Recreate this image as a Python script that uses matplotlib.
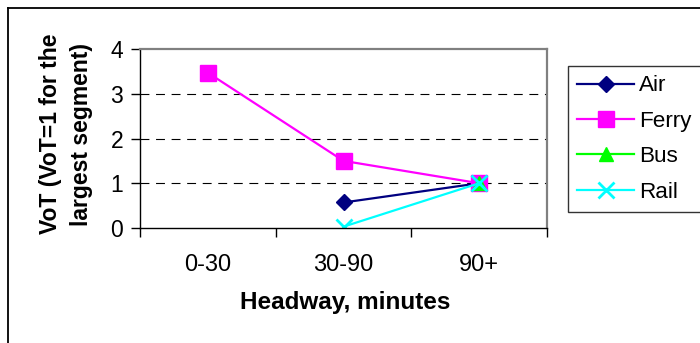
import matplotlib
matplotlib.use("Agg")
import matplotlib.pyplot as plt
from matplotlib.lines import Line2D
import numpy as np

plt.rcParams['font.family'] = ['Liberation Sans', 'DejaVu Sans']

# Headway segments and relative value of time per mode
categories = ["0-30", "30-90", "90+"]
air = [np.nan, 0.57, 1.0]
ferry = [3.47, 1.50, 1.0]
bus = [np.nan, np.nan, 1.0]
rail = [np.nan, 0.03, 1.0]
y_ticks = [0, 1, 2, 3, 4]

W, H = 700, 343
fig = plt.figure(figsize=(W / 100, H / 100), dpi=100)

def px_box(x0, y0, x1, y1):
    return [x0 / W, 1 - y1 / H, (x1 - x0) / W, (y1 - y0) / H]

ax = fig.add_axes(px_box(140, 49, 547, 228))
x = np.arange(len(categories))

ax.plot(x, air, color="#000080", lw=1.6, marker="D", ms=8.5, label="Air")
ax.plot(x, ferry, color="#FF00FF", lw=1.6, marker="s", ms=11, label="Ferry")
ax.plot(x, bus, color="#00FF00", lw=1.6, marker="^", ms=10, label="Bus")
ax.plot(x, rail, color="#00FFFF", lw=1.6, marker="x", ms=11, mew=2, label="Rail")

ax.set_xlim(-0.5, len(categories) - 0.5)
ax.set_ylim(0, 4)
ax.set_yticks(y_ticks)
ax.set_yticklabels([str(v) for v in y_ticks], fontsize=16.5)
ax.set_xticks(x)
ax.set_xticklabels(categories, fontsize=17)
ax.set_xticks(np.arange(-0.5, len(categories)), minor=True)
ax.tick_params(axis="x", which="major", length=0, pad=19)
ax.tick_params(axis="x", which="minor", length=6.5, width=1, direction="out")
ax.tick_params(axis="y", length=6.5, width=1, pad=5.5)

for v in y_ticks[1:-1]:
    ax.axhline(v, color="black", lw=0.8, dashes=(8, 6), zorder=0)

for side in ("left", "bottom"):
    ax.spines[side].set_color("black")
    ax.spines[side].set_linewidth(1)
for side in ("top", "right"):
    ax.spines[side].set_color("#808080")
    ax.spines[side].set_linewidth(1.6)

fig.text(345 / W, 1 - 303 / H, "Headway, minutes", fontsize=17.5,
         fontweight="bold", ha="center", va="center")
fig.text(66 / W, 1 - 134 / H, "VoT (VoT=1 for the\nlargest segment)",
         fontsize=16.5, fontweight="bold", rotation=90, ha="center",
         va="center", multialignment="center", linespacing=1.45)

leg = ax.legend(loc="upper left", bbox_to_anchor=(568 / W, 1 - 66 / H),
                bbox_transform=fig.transFigure, fontsize=16.2, frameon=True,
                fancybox=False, edgecolor="black", borderaxespad=0,
                borderpad=0.42, handlelength=2.5, handletextpad=0.25,
                labelspacing=0.64)
leg.get_frame().set_linewidth(1)

# outer chart frame (top and left edges)
fig.add_artist(Line2D([8 / W, 1], [1 - 8 / H, 1 - 8 / H], color="black",
                      lw=1.3, transform=fig.transFigure))
fig.add_artist(Line2D([8 / W, 8 / W], [0, 1 - 8 / H], color="black",
                      lw=1.3, transform=fig.transFigure))

fig.savefig("out.png", dpi=100)
